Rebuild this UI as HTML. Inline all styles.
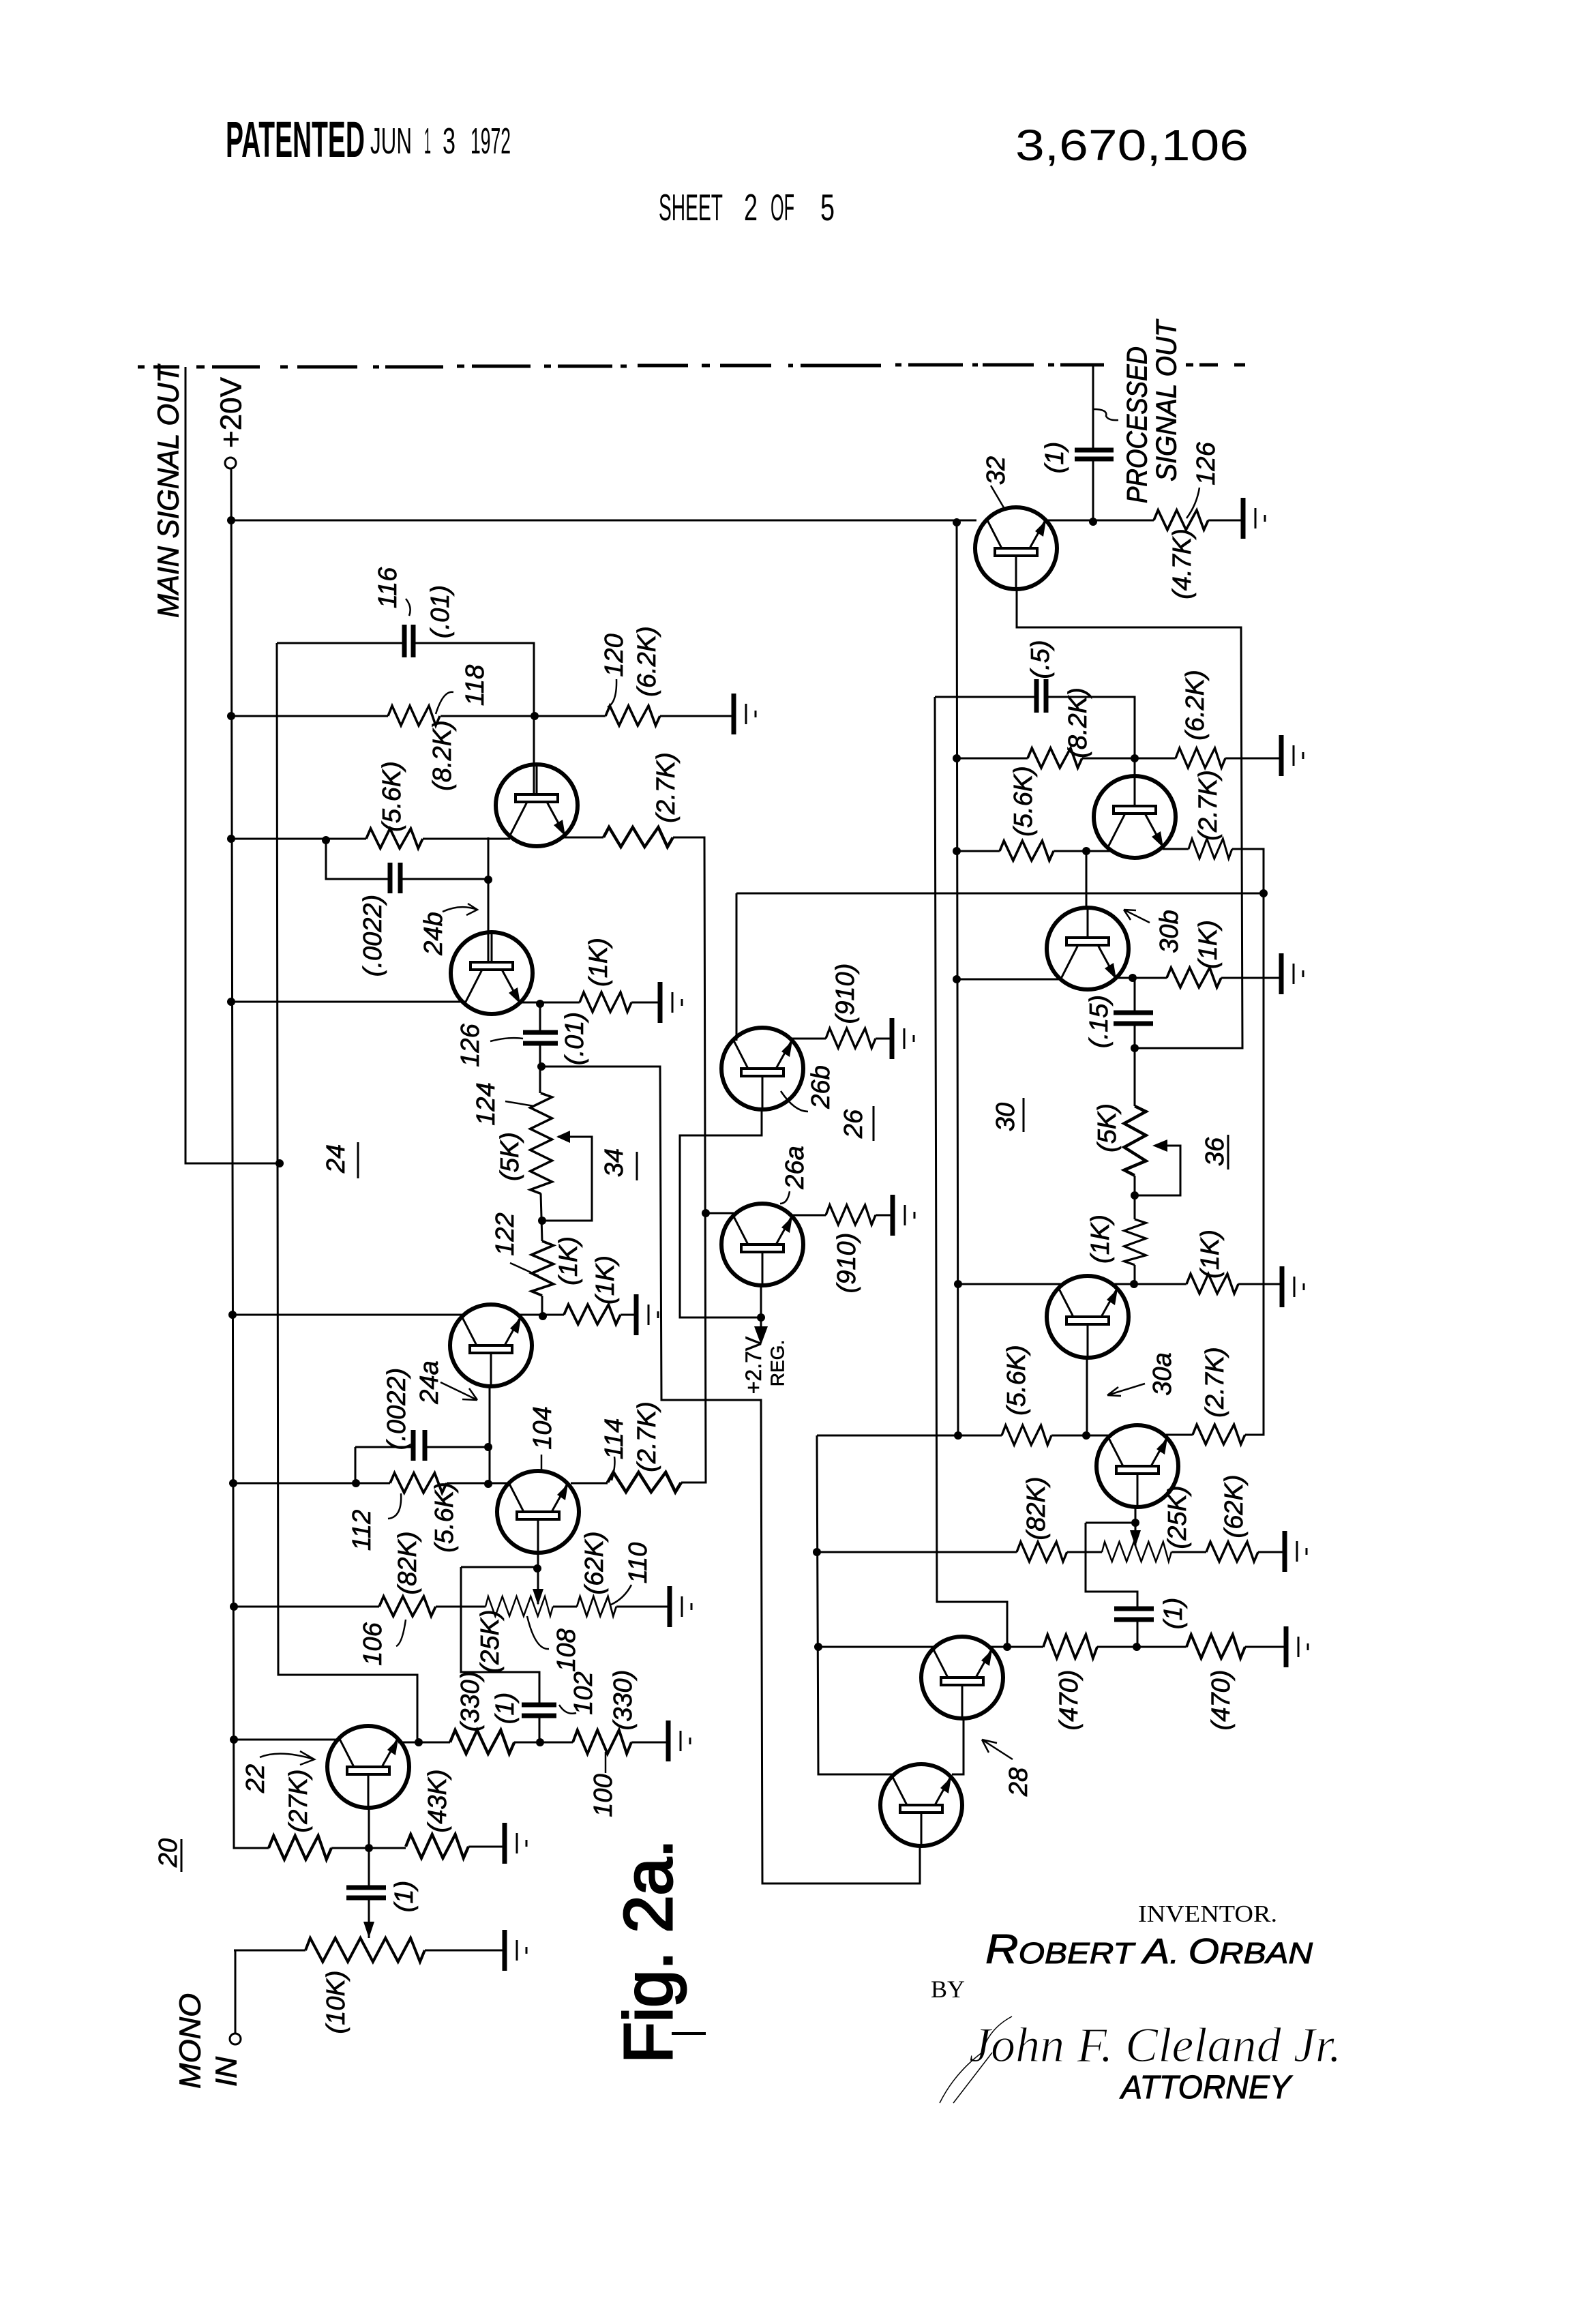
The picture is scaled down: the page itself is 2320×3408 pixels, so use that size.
<!DOCTYPE html>
<html><head><meta charset="utf-8"><title>Sheet 2 of 5</title>
<style>
html,body{margin:0;padding:0;background:#fff}
svg{display:block}
text{fill:#000}
.l{font:italic 38px "Liberation Sans",sans-serif;text-anchor:middle;dominant-baseline:central;stroke:#000;stroke-width:.7}
.b{font:italic 44px "Liberation Sans",sans-serif;text-anchor:middle;dominant-baseline:central;stroke:#000;stroke-width:.9}
.u{font:30px "Liberation Sans",sans-serif;text-anchor:middle;dominant-baseline:central;stroke:#000;stroke-width:.6}
.w{fill:none;stroke:#000;stroke-width:3}
.t{fill:none;stroke:#000;stroke-width:2.5}
</style></head><body>
<svg xmlns="http://www.w3.org/2000/svg" width="2320" height="3408" viewBox="0 0 2320 3408">
<rect width="2320" height="3408" fill="#fff"/>
<defs>
<path id="r" fill="none" stroke="#000" stroke-width="3.5" d="M0 0L6-15L19 14L32-15L45 14L60-15L70 14L76 0"/>
<path id="p" fill="none" stroke="#000" stroke-width="3.5" d="M0 0L6-15L22 14L38-15L54 14L70-15L86 14L102-15L118 14L134-15L146 14L152 0"/>
<g id="g" fill="none" stroke="#000"><path stroke-width="7" d="M0-30V30"/><path stroke-width="3" d="M18-15V15"/><path stroke-width="3" d="M32-5V5"/></g>
<g id="tu" fill="none" stroke="#000">
<circle r="60" stroke-width="6"/>
<path stroke-width="3" d="M-21 0L-42-41M20 0L43-41M0 11V60"/>
<rect x="-31" y="0" width="62" height="11" stroke-width="4" fill="#fff"/>
<path d="M44-41L28-25L40-17Z" fill="#000" stroke="none"/>
</g>
<g id="td" fill="none" stroke="#000">
<circle r="60" stroke-width="6"/>
<path stroke-width="3" d="M-14-5L-39 44M15-5L40 41M0-16V-60"/>
<rect x="-31" y="-16" width="62" height="11" stroke-width="4" fill="#fff"/>
<path d="M42 45L25 29L38 21Z" fill="#000" stroke="none"/>
</g>
</defs>

<!-- dash dot line -->
<path fill="none" stroke="#000" stroke-width="5" d="M202 538H212M225 538H263M288 538H300M311 538H381M411 538H422M436 538H524M547 538H556M565 538H650M670 537H681M692 537H778M798 537H808M818 537H898M910 537H919M935 536H1009M1029 536H1041M1056 536H1131M1156 536H1163M1174 536H1292M1313 535H1322M1332 535H1412M1426 535H1434M1441 535H1516M1537 535H1546M1555 535H1619M1739 535H1750M1759 535H1786M1810 535H1826"/>

<!-- wires -->
<path class="w" d="M272 538V1706H410
M339 687L343 2710H394
M339 763H1432
M339 1050H569M646 1050H784
M406 943H593M606 943H783V1165
M406 943L408 2456H612V2555
M784 1050H888M968 1050H1076
M339 1230H537M620 1230H748
M478 1232V1289H572M587 1289H716
M716 1228V1411
M827 1228H885M987 1228H1033L1035 2174H999M837 2175H891
M339 1469H682M760 1470H850M926 1470H968
M792 1470V1514M792 1530V1603
M794 1564H968L970 2053H1116L1118 2762H1349V2707
M793 1750L795 1820M818 1667H868V1790H795M795 1900V1928
M341 1928H680M760 1928H827M910 1928H933
M718 2033V2174
M521 2122H606M623 2122H716M521 2122V2175
M342 2175H572M655 2175H745
M343 2356H556M639 2356H712M811 2356H846M904 2356H982
M789 2277V2352M676 2298H788M676 2298V2452H791V2500M791 2516V2555
M343 2551H498M584 2555H660M754 2555H840M926 2555H980
M486 2710H595M687 2708H740
M541 2651V2768M541 2783V2842
M343 2860H448M623 2860H740M345 2860V2982
M1603 535V660M1603 673V765M1534 763H1692M1772 763H1823
M1491 864V920H1820L1822 1537H1664
M1403 763L1405 2105
M1371 1022H1520M1534 1022H1664V1138
M1371 1022L1374 2349H1477V2415
M1403 1112H1507M1587 1112H1724M1797 1112H1879
M1403 1248H1466M1545 1248H1630M1705 1245H1743M1807 1245H1853V2104H1826
M1080 1310H1853M1080 1310V1526
M1593 1248V1331
M1403 1436H1558M1633 1434H1711M1791 1434H1879
M1664 1434V1485M1664 1501V1622M1664 1724V1788M1664 1855V1883
M1695 1680H1731V1753H1664
M1405 1883H1556M1634 1883H1740M1816 1883H1880
M1594 1991V2105
M1198 2105H1469M1542 2105H1630M1710 2104H1749
M1198 2105L1200 2602H1312
M1396 2602H1413V2520
M1198 2276H1491M1565 2276H1616M1718 2276H1769M1845 2276H1884
M1665 2210V2267
M1592 2233H1665M1592 2233V2334H1668V2359M1668 2375V2415
M1200 2415H1372M1452 2415H1530M1609 2415H1740M1826 2415H1886
M1035 1779H1076M1160 1782H1211M1284 1782H1309
M1160 1523H1211M1284 1523H1308
M1117 1627V1665H997V1932H1116M1116 1885V1945"/>

<!-- capacitors -->
<path fill="none" stroke="#000" stroke-width="7" d="M593 916V964M606 916V964
M572 1265V1310M587 1265V1310
M767 1514H818M767 1530H818
M606 2097V2142M623 2097V2142
M765 2500H816M765 2516H816
M508 2768H566M508 2783H566
M1576 660H1633M1576 673H1633
M1520 996V1045M1534 996V1045
M1633 1485H1691M1633 1501H1691
M1634 2359H1692M1634 2375H1692"/>

<!-- resistors -->
<use href="#r" transform="translate(569 1050)"/>
<use href="#r" transform="translate(888 1050) scale(1.05 1)"/>
<use href="#r" transform="translate(537 1230) scale(1.09 1)"/>
<use href="#r" transform="translate(885 1228) scale(1.34 1)"/>
<use href="#r" transform="translate(850 1470)"/>
<use href="#p" transform="translate(793 1603) rotate(90) scale(.97 1.1)"/>
<use href="#r" transform="translate(795 1820) rotate(90) scale(1.05 1.1)"/>
<use href="#r" transform="translate(827 1928) scale(1.09 1)"/>
<use href="#r" transform="translate(572 2175) scale(1.09 1)"/>
<use href="#r" transform="translate(891 2174) scale(1.42 1)"/>
<use href="#r" transform="translate(556 2356) scale(1.09 1)"/>
<use href="#p" transform="translate(712 2356) scale(.65 1)"/>
<use href="#r" transform="translate(846 2356) scale(.76 1)"/>
<use href="#r" transform="translate(660 2555) scale(1.24 1.2)"/>
<use href="#r" transform="translate(840 2555) scale(1.13 1.2)"/>
<use href="#r" transform="translate(394 2710) scale(1.21 1.2)"/>
<use href="#r" transform="translate(595 2708) scale(1.21 1.2)"/>
<use href="#p" transform="translate(448 2860) scale(1.15 1.2)"/>
<use href="#r" transform="translate(1692 763) scale(1.05 1)"/>
<use href="#r" transform="translate(1507 1112) scale(1.05 1)"/>
<use href="#r" transform="translate(1724 1112) scale(.96 1)"/>
<use href="#r" transform="translate(1466 1248) scale(1.04 1)"/>
<use href="#r" transform="translate(1743 1245) scale(.84 1)"/>
<use href="#r" transform="translate(1711 1434) scale(1.05 1)"/>
<use href="#r" transform="translate(1664 1622) rotate(90) scale(1.34 1.1)"/>
<use href="#r" transform="translate(1664 1788) rotate(90) scale(.88 1.1)"/>
<use href="#r" transform="translate(1740 1883) scale(1 1)"/>
<use href="#r" transform="translate(1469 2105) scale(.96 1)"/>
<use href="#r" transform="translate(1749 2104) scale(1.01 1)"/>
<use href="#r" transform="translate(1491 2276) scale(.97 1)"/>
<use href="#p" transform="translate(1616 2276) scale(.67 1)"/>
<use href="#r" transform="translate(1769 2276)"/>
<use href="#r" transform="translate(1530 2415) scale(1.04 1.2)"/>
<use href="#r" transform="translate(1740 2415) scale(1.13 1.2)"/>
<use href="#r" transform="translate(1211 1782) scale(.96 1)"/>
<use href="#r" transform="translate(1211 1523) scale(.96 1)"/>

<!-- grounds -->
<use href="#g" x="1076" y="1047"/>
<use href="#g" x="968" y="1470"/>
<use href="#g" x="933" y="1928"/>
<use href="#g" x="982" y="2356"/>
<use href="#g" x="980" y="2553"/>
<use href="#g" x="740" y="2703"/>
<use href="#g" x="740" y="2860"/>
<use href="#g" x="1823" y="760"/>
<use href="#g" x="1879" y="1108"/>
<use href="#g" x="1879" y="1428"/>
<use href="#g" x="1880" y="1887"/>
<use href="#g" x="1886" y="2415"/>
<use href="#g" x="1884" y="2275"/>
<use href="#g" x="1309" y="1782"/>
<use href="#g" x="1308" y="1523"/>

<!-- transistors -->
<use href="#td" x="787" y="1181"/>
<use href="#td" x="721" y="1427"/>
<use href="#td" x="1664" y="1198"/>
<use href="#td" x="1595" y="1391"/>
<use href="#tu" x="1490" y="804"/>
<use href="#tu" x="720" y="1973"/>
<use href="#tu" x="789" y="2217"/>
<use href="#tu" x="1118" y="1567"/>
<use href="#tu" x="1118" y="1825"/>
<use href="#tu" x="1595" y="1931"/>
<use href="#tu" x="1668" y="2150"/>
<use href="#tu" x="1411" y="2460"/>
<use href="#tu" x="1351" y="2647"/>
<use href="#tu" x="540" y="2591"/>

<!-- arrows on pots -->
<path d="M816 1667L836 1658V1676Z M1690 1680L1712 1671V1689Z M1116 1972L1106 1945H1126Z M541 2842L533 2818H549Z M789 2354L781 2330H797Z M1665 2268L1657 2244H1673Z" fill="#000"/>

<!-- terminals -->
<circle cx="338" cy="679" r="8" fill="#fff" stroke="#000" stroke-width="3"/>
<circle cx="345" cy="2990" r="8" fill="#fff" stroke="#000" stroke-width="3"/>

<!-- junctions -->
<g fill="#000">
<circle cx="339" cy="763" r="6"/><circle cx="339" cy="1050" r="6"/><circle cx="339" cy="1230" r="6"/><circle cx="339" cy="1469" r="6"/><circle cx="341" cy="1928" r="6"/><circle cx="342" cy="2175" r="6"/><circle cx="343" cy="2356" r="6"/><circle cx="343" cy="2551" r="6"/><circle cx="410" cy="1706" r="6"/><circle cx="784" cy="1050" r="6"/><circle cx="478" cy="1232" r="6"/><circle cx="716" cy="1290" r="6"/><circle cx="792" cy="1472" r="6"/><circle cx="794" cy="1564" r="6"/><circle cx="795" cy="1790" r="6"/><circle cx="796" cy="1930" r="6"/><circle cx="716" cy="2122" r="6"/><circle cx="716" cy="2176" r="6"/><circle cx="522" cy="2175" r="6"/><circle cx="788" cy="2300" r="6"/><circle cx="614" cy="2555" r="6"/><circle cx="792" cy="2555" r="6"/><circle cx="541" cy="2710" r="6"/><circle cx="1403" cy="766" r="6"/><circle cx="1603" cy="765" r="6"/><circle cx="1403" cy="1112" r="6"/><circle cx="1664" cy="1112" r="6"/><circle cx="1403" cy="1248" r="6"/><circle cx="1593" cy="1248" r="6"/><circle cx="1853" cy="1310" r="6"/><circle cx="1403" cy="1436" r="6"/><circle cx="1661" cy="1434" r="6"/><circle cx="1664" cy="1537" r="6"/><circle cx="1664" cy="1753" r="6"/><circle cx="1663" cy="1883" r="6"/><circle cx="1405" cy="1883" r="6"/><circle cx="1405" cy="2105" r="6"/><circle cx="1593" cy="2105" r="6"/><circle cx="1198" cy="2276" r="6"/><circle cx="1665" cy="2233" r="6"/><circle cx="1200" cy="2415" r="6"/><circle cx="1477" cy="2415" r="6"/><circle cx="1667" cy="2415" r="6"/><circle cx="1035" cy="1779" r="6"/><circle cx="1116" cy="1932" r="6"/>
</g>

<!-- leaders and underlines -->
<path class="t" d="M600 903Q605 890 595 878
M639 1047Q650 1012 665 1015
M891 1037Q905 1030 904 996
M649 1337Q675 1325 700 1334M686 1325L700 1334L684 1342
M1603 600Q1625 600 1622 610Q1625 617 1640 616
M1473 746L1453 712
M1740 760Q1755 740 1759 715
M1686 1353L1648 1334M1648 1334L1666 1335M1648 1334L1658 1349
M719 1527Q745 1520 767 1523
M741 1615L783 1622
M748 1852L790 1871
M646 2027L700 2053M700 2053L678 2052M700 2053L688 2036
M794 2133V2155
M901 2136Q903 2150 897 2171
M588 2190Q590 2225 569 2227
M595 2375Q590 2410 581 2414
M773 2370Q785 2420 805 2418
M894 2354Q915 2345 926 2324
M888 2569V2600
M1679 2029L1624 2046M1624 2046L1640 2034M1624 2046L1644 2047
M1485 2580L1440 2551M1440 2551L1462 2556M1440 2551L1450 2570
M381 2577Q410 2565 461 2580M440 2568L461 2580L440 2588
M1145 1600Q1165 1630 1185 1630
M1144 1765Q1155 1765 1158 1747
M820 2500Q830 2516 845 2512"/>
<path class="w" d="M525 1675V1728M934 1689V1731M1281 1622V1673M1501 1610V1660M1801 1664V1715M266 2697V2745"/>

<!-- header -->
<text x="331" y="230" font-family="Liberation Sans" font-weight="700" font-size="74" textLength="204" lengthAdjust="spacingAndGlyphs">PATENTED</text>
<text x="543" y="225" font-family="Liberation Sans" font-size="54" textLength="61" lengthAdjust="spacingAndGlyphs">JUN</text>
<text x="622" y="225" font-family="Liberation Sans" font-size="54" textLength="10" lengthAdjust="spacingAndGlyphs">1</text>
<text x="649" y="225" font-family="Liberation Sans" font-size="54" textLength="19" lengthAdjust="spacingAndGlyphs">3</text>
<text x="690" y="225" font-family="Liberation Sans" font-size="54" textLength="59" lengthAdjust="spacingAndGlyphs">1972</text>
<text x="1489" y="235" font-family="Liberation Sans" font-size="64" textLength="342" lengthAdjust="spacingAndGlyphs">3,670,106</text>
<text x="966" y="323" font-family="Liberation Sans" font-size="55" textLength="94" lengthAdjust="spacingAndGlyphs">SHEET</text>
<text x="1091" y="323" font-family="Liberation Sans" font-size="55" textLength="20" lengthAdjust="spacingAndGlyphs">2</text>
<text x="1130" y="323" font-family="Liberation Sans" font-size="55" textLength="35" lengthAdjust="spacingAndGlyphs">OF</text>
<text x="1203" y="323" font-family="Liberation Sans" font-size="55" textLength="21" lengthAdjust="spacingAndGlyphs">5</text>

<!-- big labels -->
<text class="b" transform="translate(247 721) rotate(-90)" textLength="370" lengthAdjust="spacingAndGlyphs">MAIN SIGNAL OUT</text>
<text class="u" style="font-size:44px" transform="translate(339 605) rotate(-90)">+20V</text>
<text class="b" style="font-size:42px" transform="translate(1667 623) rotate(-90)" textLength="230" lengthAdjust="spacingAndGlyphs">PROCESSED</text>
<text class="b" style="font-size:42px" transform="translate(1710 588) rotate(-90)" textLength="236" lengthAdjust="spacingAndGlyphs">SIGNAL OUT</text>
<text class="b" transform="translate(279 2993) rotate(-90)" textLength="140" lengthAdjust="spacingAndGlyphs">MONO</text>
<text class="b" transform="translate(332 3038) rotate(-90)">IN</text>
<text class="u" style="font-size:32px" transform="translate(1105 2002) rotate(-90)">+2.7V</text>
<text class="u" style="font-size:28px" transform="translate(1140 1999) rotate(-90)">REG.</text>

<!-- component labels -->
<g>
<text class="l" transform="translate(569 862) rotate(-90)">116</text>
<text class="l" transform="translate(646 897) rotate(-90)">(.01)</text>
<text class="l" transform="translate(697 1005) rotate(-90)">118</text>
<text class="l" transform="translate(649 1108) rotate(-90)">(8.2K)</text>
<text class="l" transform="translate(901 961) rotate(-90)">120</text>
<text class="l" transform="translate(949 970) rotate(-90)">(6.2K)</text>
<text class="l" transform="translate(575 1168) rotate(-90)">(5.6K)</text>
<text class="l" transform="translate(977 1155) rotate(-90)">(2.7K)</text>
<text class="l" transform="translate(547 1372) rotate(-90)">(.0022)</text>
<text class="l" transform="translate(636 1369) rotate(-90)">24b</text>
<text class="l" transform="translate(878 1411) rotate(-90)">(1K)</text>
<text class="l" transform="translate(690 1533) rotate(-90)">126</text>
<text class="l" transform="translate(843 1523) rotate(-90)">(.01)</text>
<text class="l" transform="translate(713 1619) rotate(-90)">124</text>
<text class="l" transform="translate(748 1696) rotate(-90)">(5K)</text>
<text class="l" transform="translate(901 1705) rotate(-90)">34</text>
<text class="l" transform="translate(493 1699) rotate(-90)">24</text>
<text class="l" transform="translate(741 1810) rotate(-90)">122</text>
<text class="l" transform="translate(834 1849) rotate(-90)">(1K)</text>
<text class="l" transform="translate(888 1877) rotate(-90)">(1K)</text>
<text class="l" transform="translate(582 2066) rotate(-90)">(.0022)</text>
<text class="l" transform="translate(630 2027) rotate(-90)">24a</text>
<text class="l" transform="translate(796 2094) rotate(-90)">104</text>
<text class="l" transform="translate(901 2110) rotate(-90)">114</text>
<text class="l" transform="translate(949 2107) rotate(-90)">(2.7K)</text>
<text class="l" transform="translate(531 2244) rotate(-90)">112</text>
<text class="l" transform="translate(652 2225) rotate(-90)">(5.6K)</text>
<text class="l" transform="translate(598 2292) rotate(-90)">(82K)</text>
<text class="l" transform="translate(719 2407) rotate(-90)">(25K)</text>
<text class="l" transform="translate(872 2292) rotate(-90)">(62K)</text>
<text class="l" transform="translate(936 2292) rotate(-90)">110</text>
<text class="l" transform="translate(831 2420) rotate(-90)">108</text>
<text class="l" transform="translate(547 2411) rotate(-90)">106</text>
<text class="l" transform="translate(690 2495) rotate(-90)">(330)</text>
<text class="l" transform="translate(741 2505) rotate(-90)">(1)</text>
<text class="l" transform="translate(856 2483) rotate(-90)">102</text>
<text class="l" transform="translate(914 2493) rotate(-90)">(330)</text>
<text class="l" transform="translate(885 2633) rotate(-90)">100</text>
<text class="l" transform="translate(247 2717) rotate(-90)">20</text>
<text class="l" transform="translate(375 2608) rotate(-90)">22</text>
<text class="l" transform="translate(438 2641) rotate(-90)">(27K)</text>
<text class="l" transform="translate(642 2641) rotate(-90)">(43K)</text>
<text class="l" transform="translate(593 2781) rotate(-90)">(1)</text>
<text class="l" transform="translate(493 2936) rotate(-90)">(10K)</text>
<text class="l" transform="translate(1547 671) rotate(-90)">(1)</text>
<text class="l" transform="translate(1461 690) rotate(-90)">32</text>
<text class="l" transform="translate(1769 680) rotate(-90)">126</text>
<text class="l" transform="translate(1734 827) rotate(-90)">(4.7K)</text>
<text class="l" transform="translate(1526 967) rotate(-90)">(.5)</text>
<text class="l" transform="translate(1581 1060) rotate(-90)">(8.2K)</text>
<text class="l" transform="translate(1753 1034) rotate(-90)">(6.2K)</text>
<text class="l" transform="translate(1501 1175) rotate(-90)">(5.6K)</text>
<text class="l" transform="translate(1772 1181) rotate(-90)">(2.7K)</text>
<text class="l" transform="translate(1715 1366) rotate(-90)">30b</text>
<text class="l" transform="translate(1772 1385) rotate(-90)">(1K)</text>
<text class="l" transform="translate(1240 1457) rotate(-90)">(910)</text>
<text class="l" transform="translate(1204 1594) rotate(-90)">26b</text>
<text class="l" transform="translate(1252 1648) rotate(-90)">26</text>
<text class="l" transform="translate(1166 1712) rotate(-90)">26a</text>
<text class="l" transform="translate(1242 1852) rotate(-90)">(910)</text>
<text class="l" transform="translate(1475 1638) rotate(-90)">30</text>
<text class="l" transform="translate(1612 1498) rotate(-90)">(.15)</text>
<text class="l" transform="translate(1624 1654) rotate(-90)">(5K)</text>
<text class="l" transform="translate(1782 1689) rotate(-90)">36</text>
<text class="l" transform="translate(1614 1817) rotate(-90)">(1K)</text>
<text class="l" transform="translate(1775 1839) rotate(-90)">(1K)</text>
<text class="l" transform="translate(1491 2024) rotate(-90)">(5.6K)</text>
<text class="l" transform="translate(1705 2015) rotate(-90)">30a</text>
<text class="l" transform="translate(1782 2027) rotate(-90)">(2.7K)</text>
<text class="l" transform="translate(1520 2212) rotate(-90)">(82K)</text>
<text class="l" transform="translate(1727 2225) rotate(-90)">(25K)</text>
<text class="l" transform="translate(1810 2209) rotate(-90)">(62K)</text>
<text class="l" transform="translate(1721 2366) rotate(-90)">(1)</text>
<text class="l" transform="translate(1568 2493) rotate(-90)">(470)</text>
<text class="l" transform="translate(1791 2493) rotate(-90)">(470)</text>
<text class="l" transform="translate(1494 2613) rotate(-90)">28</text>
</g>

<!-- figure label -->
<text transform="translate(985 3026) rotate(-90)" font-family="Liberation Sans" font-size="100" textLength="329" lengthAdjust="spacing" stroke="#000" stroke-width="3">Fig. 2a.</text>
<path fill="none" stroke="#000" stroke-width="4" d="M985 2982H1035"/>

<!-- inventor block -->
<text x="1669" y="2818" font-family="Liberation Serif" font-size="35" textLength="204" lengthAdjust="spacingAndGlyphs">INVENTOR.</text>
<text x="1445" y="2879" font-family="Liberation Sans" font-style="italic" font-size="44" stroke="#000" stroke-width="1" textLength="480" lengthAdjust="spacingAndGlyphs"><tspan font-size="60">R</tspan>OBERT <tspan font-size="52">A</tspan>. <tspan font-size="52">O</tspan>RBAN</text>
<text x="1365" y="2929" font-family="Liberation Serif" font-size="36">BY</text>
<text x="1421" y="3023" font-family="Liberation Serif" font-style="italic" font-size="72" textLength="546" lengthAdjust="spacing" stroke="#fff" stroke-width="1.3">John F. Cleland Jr.</text>
<path fill="none" stroke="#000" stroke-width="1.5" d="M1484 2957Q1450 2975 1440 3010Q1400 3040 1378 3084M1455 3010L1398 3084"/>
<text x="1644" y="3077" font-family="Liberation Sans" font-style="italic" font-size="48" stroke="#000" stroke-width="1" textLength="249" lengthAdjust="spacingAndGlyphs">ATTORNEY</text>
</svg>
</body></html>
